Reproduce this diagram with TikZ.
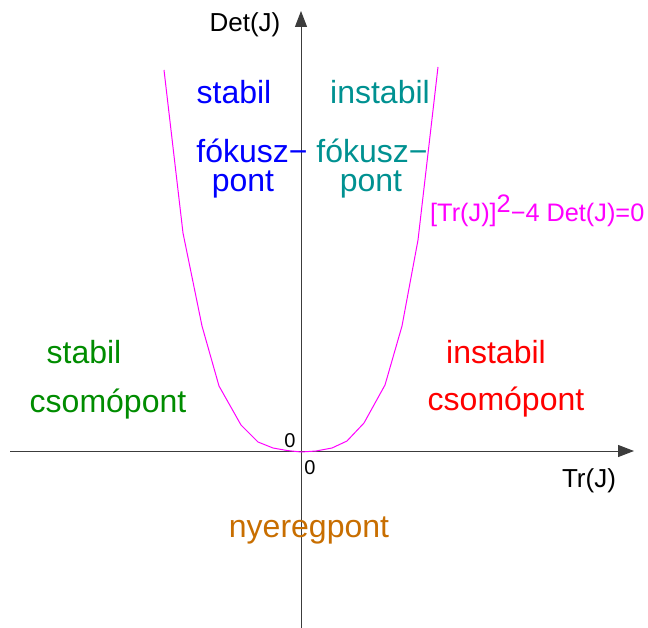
\documentclass[tikz,border=0pt]{standalone}
\usepackage{fontspec}
\setmainfont{Liberation Sans}
\usetikzlibrary{arrows.meta}
\definecolor{axisgray}{RGB}{60,60,60}
\definecolor{tealc}{RGB}{0,145,145}
\definecolor{greenc}{RGB}{0,140,0}
\definecolor{orangec}{RGB}{200,110,0}
\definecolor{magc}{RGB}{255,0,255}
\tikzset{
  axis/.style={draw=axisgray, line width=1pt, -{Triangle[length=16pt,width=12pt]}},
  big/.style={inner sep=0pt, anchor=base, font=\fontsize{32}{38}\selectfont},
  mid/.style={inner sep=0pt, anchor=base, font=\fontsize{26}{30}\selectfont},
  eqfont/.style={inner sep=0pt, anchor=base west, font=\fontsize{25.3}{30}\selectfont},
  small/.style={inner sep=0pt, anchor=base, font=\fontsize{20}{24}\selectfont},
  curve/.style={draw=magc, line width=1pt, line join=round}
}
\begin{document}
\begin{tikzpicture}[x=1pt,y=-1pt]
\useasboundingbox (0,0) rectangle (648,628);
\coordinate (xs) at (10,451);
\coordinate (xe) at (634,451);
\coordinate (ys) at (301,628);
\coordinate (ye) at (301,11);
\draw[axis] (xs) -- (xe);
\draw[axis] (ys) -- (ye);
\draw[curve] (164,70) -- (183,233) -- (202,326) -- (219,386) -- (241,425) -- (258,442)
  -- (273,448) -- (287,450.5) -- (301,452) -- (316,451) -- (332,448) -- (347,441)
  -- (364,423) -- (385,385) -- (402,326) -- (418,240) -- (438,67);
\node[mid] (det) at (245,32) {Det(J)};
\node[mid] (tr) at (589,487) {Tr(J)};
\node[small] (z1) at (290,447) {0};
\node[small] (z2) at (310,474) {0};
\node[big, text=blue] (s1) at (234,104) {stabil};
\node[big, text=tealc] (i1) at (380,104) {instabil};
\node[big, text=blue] (f1) at (252,163) {fókusz−};
\node[big, text=blue] (p1) at (243,192) {pont};
\node[big, text=tealc] (f2) at (372,163) {fókusz−};
\node[big, text=tealc] (p2) at (371,192) {pont};
\node[eqfont, text=magc] (eq) at (430,222) {[Tr(J)]\raisebox{9pt}{2}−4 Det(J)=0};
\node[big, text=greenc] (s2) at (84,363) {stabil};
\node[big, text=greenc] (c2) at (108,412) {csomópont};
\node[big, text=red] (i3) at (496,363) {instabil};
\node[big, text=red] (c3) at (506,410) {csomópont};
\node[big, text=orangec] (ny) at (309,537) {nyeregpont};
\end{tikzpicture}
\end{document}
